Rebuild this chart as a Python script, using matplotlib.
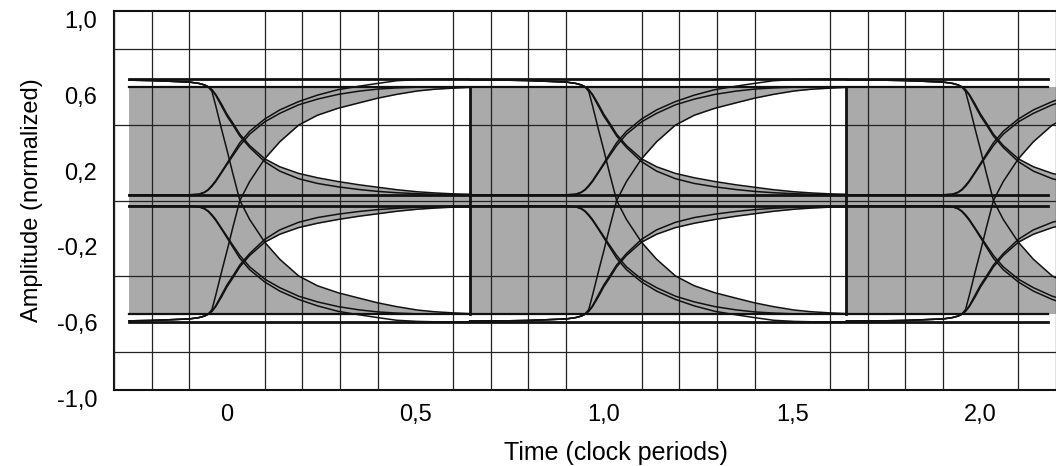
import numpy as np
import matplotlib
matplotlib.use("Agg")
import matplotlib.pyplot as plt

plt.rcParams['font.family'] = ['Liberation Sans', 'DejaVu Sans']

# time within one clock period (eye template)
T = [-0.356, -0.26, -0.2, -0.1, -0.075, -0.06, -0.05, -0.04, -0.03, -0.015,
     0.0, 0.015, 0.034, 0.06, 0.1, 0.14, 0.19, 0.24, 0.295, 0.35,
     0.4, 0.45, 0.505, 0.55, 0.6, 0.644]

# full swing fall (top level -> bottom level)
FULL_FALL = [0.636, 0.635, 0.633, 0.625, 0.618, 0.61, 0.6, 0.575, 0.5, 0.38,
             0.265, 0.145, 0.0, -0.1, -0.22, -0.31, -0.398, -0.45, -0.487, -0.515,
             -0.54, -0.56, -0.578, -0.587, -0.593, -0.597]

# half swing fall (top level -> middle level), two traces
HALF_FALL_HI = [0.636, 0.635, 0.633, 0.625, 0.618, 0.61, 0.6, 0.585, 0.56, 0.51,
                0.455, 0.41, 0.35, 0.29, 0.22, 0.178, 0.143, 0.12, 0.1, 0.083,
                0.07, 0.057, 0.046, 0.04, 0.035, 0.033]
HALF_FALL_LO = [0.636, 0.635, 0.633, 0.625, 0.618, 0.61, 0.6, 0.583, 0.555, 0.5,
                0.445, 0.4, 0.34, 0.28, 0.205, 0.155, 0.115, 0.09, 0.072, 0.058,
                0.048, 0.041, 0.036, 0.033, 0.031, 0.03]

# half swing rise (middle level -> top level), two traces
HALF_RISE_LO = [0.03, 0.03, 0.03, 0.03, 0.033, 0.042, 0.055, 0.075, 0.1, 0.145,
                0.19, 0.235, 0.29, 0.35, 0.415, 0.46, 0.505, 0.535, 0.56, 0.577,
                0.588, 0.594, 0.598, 0.6, 0.6, 0.6]
HALF_RISE_HI = [0.03, 0.03, 0.03, 0.03, 0.033, 0.044, 0.058, 0.08, 0.105, 0.15,
                0.197, 0.245, 0.305, 0.365, 0.43, 0.478, 0.522, 0.556, 0.585, 0.603,
                0.618, 0.632, 0.638, 0.64, 0.64, 0.64]

PERIODS = [0, 1, 2]
DATA_START = -0.26
LEVELS_THICK = [0.64, 0.03, -0.03, -0.64]
LEVELS_EDGE = [0.6, -0.6]

xticks = [0, 0.5, 1.0, 1.5, 2.0]
xtick_labels = ['0', '0,5', '1,0', '1,5', '2,0']
yticks = [1.0, 0.6, 0.2, -0.2, -0.6, -1.0]
ytick_labels = ['1,0', '0,6', '0,2', '-0,2', '-0,6', '-1,0']

GRAY = '#aaaaaa'
INK = '#111111'

t = np.array(T)
ff = np.array(FULL_FALL)
fr = -ff
hfh = np.array(HALF_FALL_HI)
hfl = np.array(HALF_FALL_LO)
hrl = np.array(HALF_RISE_LO)
hrh = np.array(HALF_RISE_HI)

fig = plt.figure(figsize=(10.56, 4.66), dpi=100)
ax = fig.add_axes([114 / 1056, 76 / 466, 1 - 114 / 1056, 379 / 466])
x_right = -0.3 + (1056 - 114) / 380
ax.set_xlim(-0.3, x_right)
ax.set_ylim(-1.0, 1.0)

for k in PERIODS:
    m = (t + k) >= DATA_START
    x = t[m] + k
    x0 = x[0]
    # gray area swept by the traces
    ax.fill_between([x0, k + T[-1]], -0.6, 0.6, color=GRAY, lw=0, zorder=1)
    # eye openings
    ax.fill_between(x, hfh[m], fr[m], where=fr[m] >= hfh[m], interpolate=True,
                    color='white', lw=0, zorder=1.2)
    ax.fill_between(x, -hfh[m], ff[m], where=ff[m] <= -hfh[m], interpolate=True,
                    color='white', lw=0, zorder=1.2)

    for sign in (1, -1):
        for y in (ff, hfh, hfl, hrl, hrh):
            ax.plot(x, sign * y[m], color=INK, lw=1.1, zorder=3)

    if k < PERIODS[-1]:
        ax.plot([k + T[-1], k + T[-1]], [-0.6, 0.6], color=INK, lw=2, zorder=3.5)

for lv in LEVELS_THICK:
    ax.plot([DATA_START, x_right], [lv, lv], color=INK, lw=2, zorder=3.5)
for lv in LEVELS_EDGE:
    ax.plot([DATA_START, x_right], [lv, lv], color=INK, lw=1.6, zorder=3.5)

# grid drawn over the fills
ax.set_xticks(np.arange(-0.3, 2.25, 0.1), minor=True)
ax.set_yticks(np.arange(-1.0, 1.01, 0.2), minor=True)
ax.grid(which='minor', color='#222222', lw=0.9)
ax.set_axisbelow(False)

ax.set_xticks(xticks)
ax.set_xticklabels(xtick_labels, fontsize=17)
ax.set_yticks(yticks)
ax.set_yticklabels(ytick_labels, fontsize=17, va='top')
ax.tick_params(which='both', length=0)
ax.tick_params(axis='x', pad=10)
ax.tick_params(axis='y', pad=12)

for s in ('left', 'top', 'bottom'):
    ax.spines[s].set_linewidth(1.5)
    ax.spines[s].set_color(INK)
ax.spines['right'].set_visible(False)

ax.set_xlabel('Time (clock periods)', fontsize=18)
ax.xaxis.set_label_coords(0.533, -0.135)
ax.set_ylabel('Amplitude (normalized)', fontsize=17, labelpad=10)

fig.savefig('out.png', dpi=100)
